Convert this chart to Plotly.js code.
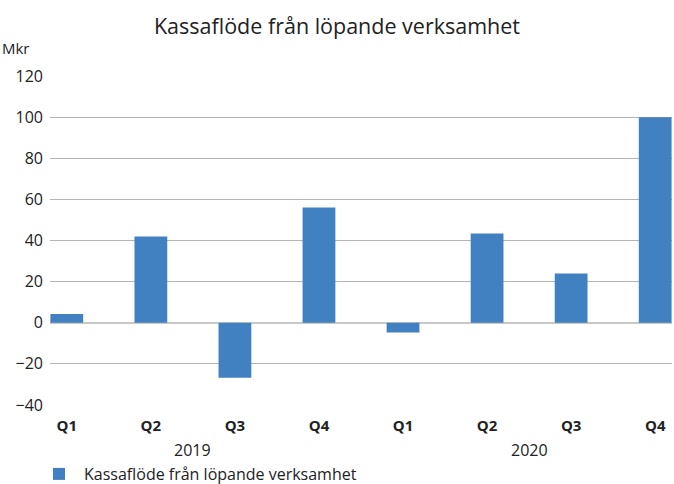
<!DOCTYPE html>
<html>
<head>
<meta charset="utf-8">
<script src="https://cdn.plot.ly/plotly-3.0.1.min.js"></script>
<style>
  body { margin: 0; background: #fff; }
  #chart { width: 674px; height: 484px; }
</style>
</head>
<body>
<div id="chart"></div>
<script>
var quarters = ['Q1', 'Q2', 'Q3', 'Q4', 'Q1', 'Q2', 'Q3', 'Q4'];
var years = ['2019', '2020'];
var cashflow = [4.2, 42, -26.7, 56, -4.7, 43.4, 23.9, 100];
var seriesName = 'Kassaflöde från löpande verksamhet';

function cashflow_chart(id) {
  var font = '"Open Sans", "DejaVu Sans", sans-serif'
  var idx = quarters.map(function (q, i) { return i })

  var trace1 = {
    x: idx,
    y: cashflow,
    name: seriesName,
    type: 'bar',
    width: 0.39,
    marker: { color: '#4180c1' },
    hoverinfo: 'none',
  };

  // year labels sit under the middle of each group of four quarters
  var yearNotes = years.map(function (yr, g) {
    return {
      text: yr,
      xref: 'x', yref: 'paper',
      x: g * 4 + 1.5, y: 0,
      yanchor: 'middle',
      yshift: -45,
      showarrow: false,
      font: { family: font, size: 16, color: '#222' },
    }
  })

  var layout = {
    title: {
      text: 'Kassaflöde från löpande verksamhet',
      font: { family: font, size: 21.5, color: '#222' },
      x: 0.5,
      xanchor: 'center',
      y: 0.945,
      yanchor: 'middle',
    },
    xaxis: {
      tickmode: 'array',
      tickvals: idx,
      ticktext: quarters.map(function (q) { return '<b>' + q + '</b>' }),
      tickfont: { family: font, size: 15, color: '#222' },
      ticklabelstandoff: 10,
      range: [-0.2, 7.2],
      showgrid: false,
      zeroline: false,
      ticks: '',
      fixedrange: true,
    },
    yaxis: {
      range: [-40, 120],
      dtick: 20,
      tick0: 0,
      showgrid: true,
      gridcolor: '#b4b4b4',
      gridwidth: 1,
      zeroline: true,
      zerolinecolor: '#c8c8c8',
      zerolinewidth: 1.5,
      ticks: '',
      ticklabelstandoff: 6,
      tickfont: { family: font, size: 16, color: '#222' },
      fixedrange: true,
    },
    annotations: yearNotes.concat([{
      text: 'Mkr',
      xref: 'paper', yref: 'paper',
      x: -50 / 622, y: 1,
      xanchor: 'left',
      yanchor: 'middle',
      yshift: 28,
      showarrow: false,
      font: { family: font, size: 15, color: '#222' },
    }]),
    showlegend: true,
    legend: {
      orientation: 'h',
      x: 34 / 674,
      xref: 'container',
      xanchor: 'left',
      yref: 'container',
      y: 10 / 484,
      yanchor: 'middle',
      itemwidth: 40,
      font: { family: font, size: 16, color: '#222' },
    },
    margin: { l: 50, r: 2, t: 76, b: 79 },
    bargap: 0.6,
    paper_bgcolor: '#fff',
    plot_bgcolor: '#fff',
    width: 674,
    height: 484,
  }

  var config = { staticPlot: true }

  Plotly.newPlot(id, [trace1], layout, config);
}

cashflow_chart('chart')
</script>
</body>
</html>
